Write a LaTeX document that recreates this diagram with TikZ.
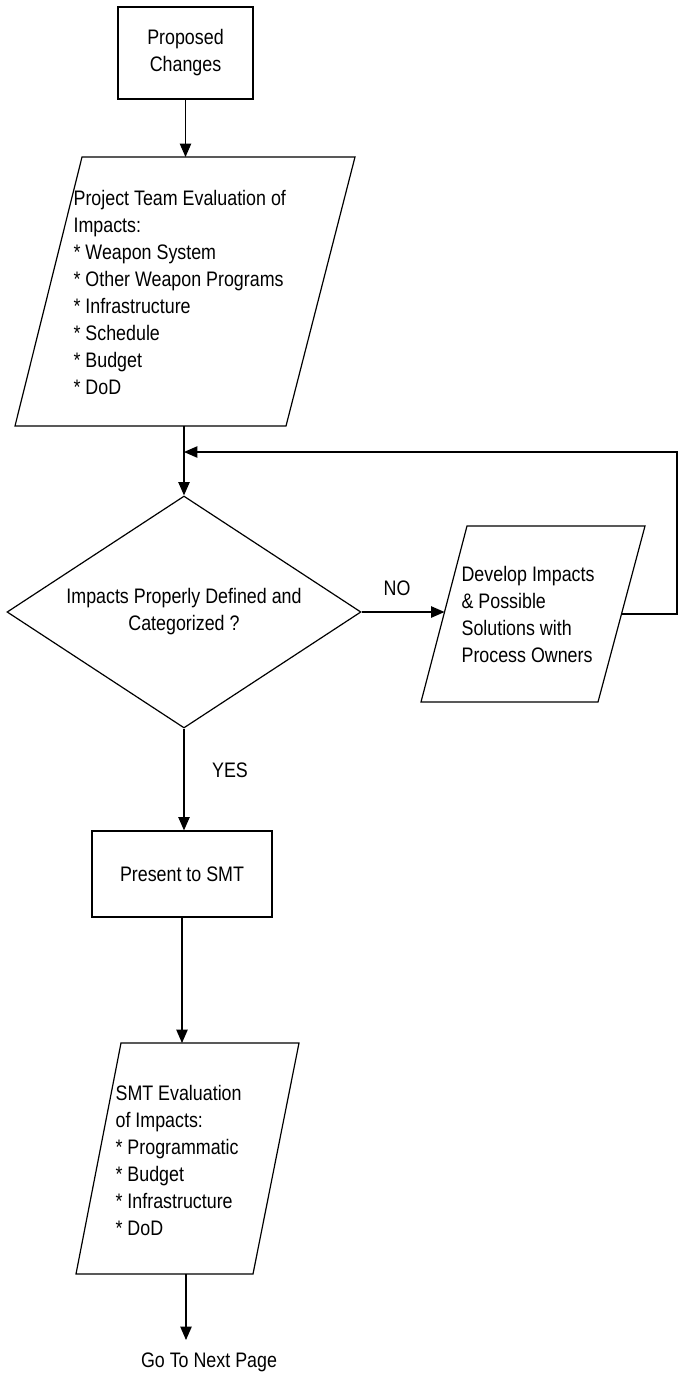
\documentclass[tikz,border=0pt]{standalone}
\usepackage{fontspec}
\setmainfont{Liberation Sans}[FakeStretch=0.85]
\usetikzlibrary{shapes.geometric,arrows.meta}
\begin{document}
\begin{tikzpicture}[x=0.75pt,y=-0.75pt,
  line width=0.9pt,
  every node/.style={font=\fontsize{15.75}{20.25}\selectfont, inner sep=0pt},
  box/.style={draw, rectangle, align=center},
  txt/.style={align=left, anchor=west},
  lbl/.style={},
  arr/.style={-{Triangle[length=10pt,width=8.5pt]}},
  shp/.style={draw, line join=miter}]
\useasboundingbox (0,0) rectangle (681,1375);

% Proposed changes
\node[box, minimum width=101.25pt, minimum height=69pt] (pc) at (185.5,53) {Proposed\\Changes};

% Parallelogram 1
\coordinate (p1tl) at (82,157);
\coordinate (p1tr) at (355,157);
\coordinate (p1br) at (286,426);
\coordinate (p1bl) at (15,426);
\coordinate (p1top) at (184,157);
\coordinate (p1bot) at (184,426);
\draw[shp] (p1tl) -- (p1tr) -- (p1br) -- (p1bl) -- cycle;
\node[txt] (p1t) at (73,292) {Project Team Evaluation of\\Impacts:\\* Weapon System\\* Other Weapon Programs\\* Infrastructure\\* Schedule\\* Budget\\* DoD};

% Decision
\node[draw, diamond, aspect=1.53, minimum width=265.5pt, minimum height=174pt, align=center] (dia) at (184,612) {Impacts Properly Defined and\\Categorized ?};

% Parallelogram 2
\coordinate (p2tl) at (467,526);
\coordinate (p2tr) at (645,526);
\coordinate (p2br) at (598,702);
\coordinate (p2bl) at (421,702);
\coordinate (p2l) at (444.5,612);
\coordinate (p2r) at (621.5,614);
\draw[shp] (p2tl) -- (p2tr) -- (p2br) -- (p2bl) -- cycle;
\node[txt] (p2t) at (461,614) {Develop Impacts\\\& Possible\\Solutions with\\Process Owners};

% Loop coordinates
\coordinate (loopa) at (677,614);
\coordinate (loopb) at (677,452);
\coordinate (loopin) at (184,452);

% Present box
\node[box, minimum width=135pt, minimum height=64.5pt] (smt) at (182,874) {Present to SMT};

% Parallelogram 3
\coordinate (p3tl) at (121,1043);
\coordinate (p3tr) at (299,1043);
\coordinate (p3br) at (253,1274);
\coordinate (p3bl) at (76,1274);
\coordinate (p3top) at (182,1043);
\coordinate (p3bot) at (186,1274);
\draw[shp] (p3tl) -- (p3tr) -- (p3br) -- (p3bl) -- cycle;
\node[txt] (p3t) at (115,1160) {SMT Evaluation\\of Impacts:\\* Programmatic\\* Budget\\* Infrastructure\\* DoD};

\node (next) at (209,1362) {Go To Next Page};
\coordinate (nextin) at (186,1340);

% Labels
\node[lbl] (no) at (397,588) {NO};
\node[lbl] (yes) at (230,770) {YES};

% Connectors
\draw[arr] (pc.south) -- (pc.south |- p1top);
\draw[arr] (p1bot) -- (dia.north);
\draw[arr] (p2r) -- (loopa) -- (loopb) -- (loopin);
\draw[arr] (dia.east) -- (p2l);
\draw[arr] (dia.south) -- (dia.south |- smt.north);
\draw[arr] (smt.south) -- (p3top);
\draw[arr] (p3bot) -- (nextin);
\end{tikzpicture}
\end{document}
